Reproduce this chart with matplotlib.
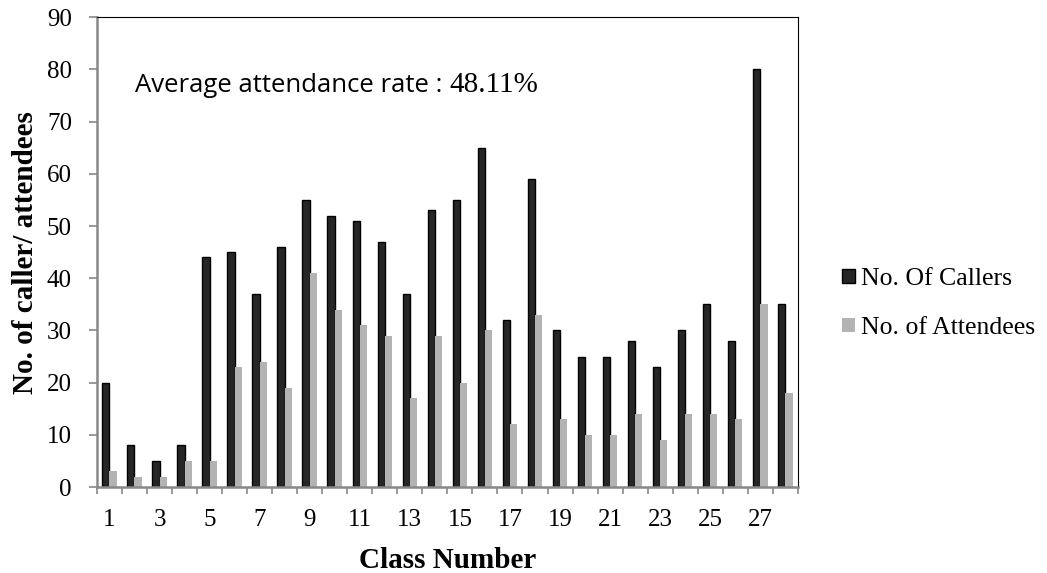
import matplotlib.pyplot as plt
import numpy as np

# Data
classes = list(range(1, 29))
callers = [20, 8, 5, 8, 44, 45, 37, 46, 55, 52, 51, 47, 37, 53, 55, 65, 32, 59,
           30, 25, 25, 28, 23, 30, 35, 28, 80, 35]
attendees = [3, 2, 2, 5, 5, 23, 24, 19, 41, 34, 31, 29, 17, 29, 20, 30, 12, 33,
             13, 10, 10, 14, 9, 14, 14, 13, 35, 18]
odd_labels = [str(c) for c in classes if c % 2 == 1]

serif = 'Liberation Serif'

fig = plt.figure(figsize=(10.47, 5.73), dpi=100)
ax = fig.add_axes([0.0926, 0.150, 0.6694, 0.820])

x = np.array(classes)
w = 0.29
ax.bar(x - w / 2, callers, w, color='#262626', edgecolor='black', linewidth=1.0,
       label='No. Of Callers')
ax.bar(x + w / 2, attendees, w, color='#b3b3b3', linewidth=0,
       label='No. of Attendees')

ax.set_xlim(0.5, 28.5)
ax.set_ylim(0, 90)

# tick marks between categories, labels on odd classes
ax.set_xticks(np.arange(0.5, 29, 1))
ax.set_xticklabels([])
ax.set_xticks([c for c in classes if c % 2 == 1], minor=True)
ax.set_xticklabels(odd_labels, minor=True, fontfamily=serif, fontsize=18)
ax.tick_params(axis='x', which='major', direction='out', length=5, color='#888888', width=1.2)
ax.tick_params(axis='x', which='minor', length=0, pad=16)

ax.set_yticks(range(0, 91, 10))
ax.set_yticklabels([str(v) for v in range(0, 91, 10)], fontfamily=serif, fontsize=18)
ax.tick_params(axis='y', direction='out', length=6, color='#888888', width=1.2, pad=12)

ax.spines['left'].set_color('#888888')
ax.spines['bottom'].set_color('#888888')
ax.spines['left'].set_linewidth(1.8)
ax.spines['bottom'].set_linewidth(1.8)
ax.spines['top'].set_color('black')
ax.spines['right'].set_color('black')

ax.set_xlabel('Class Number', fontfamily=serif, fontsize=21, fontweight='bold', labelpad=11)
ax.set_ylabel('No. of caller/ attendees', fontfamily=serif, fontsize=21, fontweight='bold', labelpad=6)

# annotation: sans text followed by serif number
t1 = ax.text(2.02, 77.0, 'Average attendance rate : ', fontfamily='Open Sans',
             fontsize=18.5, va='center', ha='left')
fig.canvas.draw()
bb = t1.get_window_extent()
x_end = ax.transData.inverted().transform((bb.x1, bb.y0))[0]
ax.text(x_end, 77.0, '48.11%', fontfamily=serif, fontsize=21, va='center', ha='left')

fig.legend(loc='center left', bbox_to_anchor=(0.792, 0.470), frameon=False,
           prop={'family': serif, 'size': 18.5}, handlelength=0.5, handleheight=0.5,
           handletextpad=0.25, labelspacing=1.05, borderpad=0)

fig.savefig('out.png', dpi=100)
